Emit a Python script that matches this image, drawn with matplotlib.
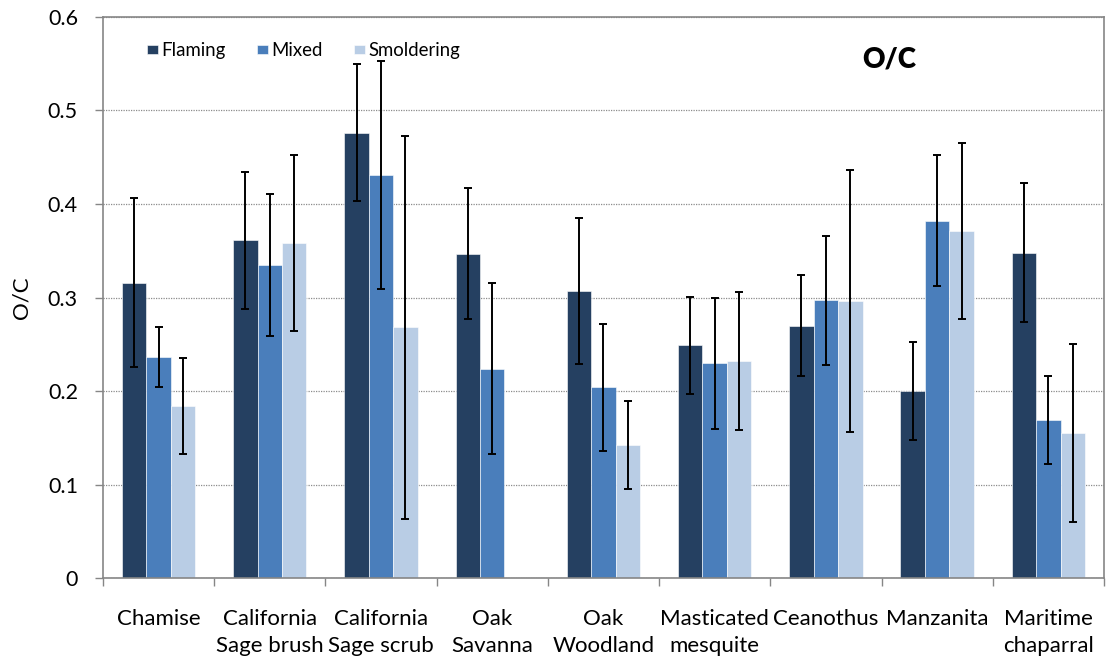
import numpy as np
import matplotlib
matplotlib.use("Agg")
import matplotlib.pyplot as plt
from matplotlib.ticker import FixedLocator, NullFormatter

plt.rcParams['font.family'] = ['Lato', 'DejaVu Sans']

categories = ["Chamise", "California\nSage brush", "California\nSage scrub", "Oak\nSavanna",
              "Oak\nWoodland", "Masticated\nmesquite", "Ceanothus", "Manzanita", "Maritime\nchaparral"]

flaming = [0.316, 0.361, 0.476, 0.347, 0.307, 0.249, 0.270, 0.200, 0.348]
flaming_err = [0.090, 0.073, 0.073, 0.070, 0.078, 0.052, 0.054, 0.052, 0.074]

mixed = [0.236, 0.335, 0.431, 0.224, 0.204, 0.230, 0.297, 0.382, 0.169]
mixed_err = [0.032, 0.076, 0.122, 0.091, 0.068, 0.070, 0.069, 0.070, 0.047]

smoldering = [0.184, 0.358, 0.268, np.nan, 0.142, 0.232, 0.296, 0.371, 0.155]
smoldering_err = [0.051, 0.094, 0.205, np.nan, 0.047, 0.074, 0.140, 0.094, 0.095]

series = [("Flaming", flaming, flaming_err, "#254061"),
          ("Mixed", mixed, mixed_err, "#4A7EBB"),
          ("Smoldering", smoldering, smoldering_err, "#B9CDE5")]

fig = plt.figure(figsize=(11.07, 6.62), dpi=100)
ax = fig.add_axes([0.0930, 0.1264, 0.9043, 0.8484])

x = np.arange(len(categories))
width = 0.22
handles = []
for i, (name, vals, errs, color) in enumerate(series):
    pos = x + (i - 1) * width
    b = ax.bar(pos, vals, width, color=color, edgecolor="white", linewidth=0.4,
               label=name, zorder=2)
    ax.errorbar(pos, vals, yerr=errs, fmt="none", ecolor="black", elinewidth=1.4,
                capsize=2.8, capthick=1.4, zorder=3)
    handles.append(b)

ax.set_xlim(-0.5, len(categories) - 0.5)
ax.set_ylim(0, 0.6)
ax.set_yticks(np.arange(0, 0.61, 0.1))
ax.set_yticklabels(["0", "0.1", "0.2", "0.3", "0.4", "0.5", "0.6"])
ax.yaxis.grid(True, linestyle=(0, (1, 1)), color="#8C8C8C", linewidth=0.9, zorder=0)
ax.set_axisbelow(True)

ax.set_xticks(x)
ax.set_xticklabels(categories, fontsize=16, linespacing=1.45, va="top")
ax.xaxis.set_minor_locator(FixedLocator(np.arange(-0.5, len(categories), 1.0)))
ax.xaxis.set_minor_formatter(NullFormatter())
ax.tick_params(axis="x", which="major", length=0, pad=22)
ax.tick_params(axis="x", which="minor", length=6, width=1, color="#868686", direction="out")
ax.tick_params(axis="y", length=6, width=1, color="#868686", labelsize=15.5, pad=12)

for side in ["left", "bottom", "top", "right"]:
    ax.spines[side].set_color("#868686")
    ax.spines[side].set_linewidth(1.2)

ax.set_ylabel("O/C", fontsize=16, labelpad=12)

ax.text(0.785, 0.923, "O/C", transform=ax.transAxes, fontsize=20, fontweight="heavy",
        ha="center", va="center")

ax.legend(handles=handles, loc="upper left", bbox_to_anchor=(0.027, 0.985), ncol=3,
          frameon=False, fontsize=13.4, handlelength=0.6, handleheight=0.4,
          handletextpad=0.2, columnspacing=1.65)

fig.savefig("out.png", dpi=100)
